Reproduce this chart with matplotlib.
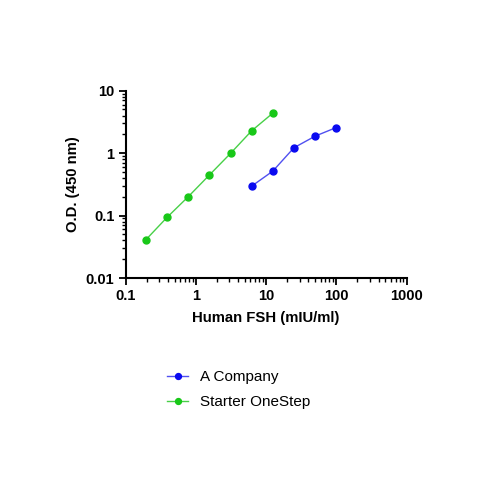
import matplotlib
matplotlib.use("agg")
import matplotlib.pyplot as plt
from matplotlib.ticker import LogLocator, FixedLocator, NullFormatter

plt.rcParams['font.family'] = ['Liberation Sans', 'DejaVu Sans']

# data
a_conc = [6.25, 12.5, 25, 50, 100]
a_od = [0.296, 0.515, 1.22, 1.87, 2.57]
s_conc = [0.195, 0.39, 0.78, 1.56, 3.125, 6.25, 12.5]
s_od = [0.041, 0.0935, 0.2, 0.445, 0.99, 2.28, 4.37]
x_ticks = [0.1, 1, 10, 100, 1000]
x_labels = ['0.1', '1', '10', '100', '1000']
y_ticks = [0.01, 0.1, 1, 10]
y_labels = ['0.01', '0.1', '1', '10']

fig = plt.figure(figsize=(5, 5), dpi=100)
ax = fig.add_axes([0.251, 0.444, 0.562, 0.3746])

la, = ax.plot(a_conc, a_od, color='#5050f0', lw=1.0, marker='o', ms=5.0,
              mfc='#0a0af0', mec='#0a0af0', label='A Company')
ls, = ax.plot(s_conc, s_od, color='#48d048', lw=1.0, marker='o', ms=5.0,
              mfc='#18c818', mec='#18c818', label='Starter OneStep')

ax.set_xscale('log')
ax.set_yscale('log')
ax.set_xlim(0.1, 1000)
ax.set_ylim(0.01, 10)
ax.xaxis.set_major_locator(FixedLocator(x_ticks))
ax.yaxis.set_major_locator(FixedLocator(y_ticks))
ax.set_xticklabels(x_labels, fontsize=10.5, fontweight='bold')
ax.set_yticklabels(y_labels, fontsize=10.5, fontweight='bold')
ax.xaxis.set_minor_locator(LogLocator(base=10, subs=range(2, 10)))
ax.yaxis.set_minor_locator(LogLocator(base=10, subs=range(2, 10)))
ax.xaxis.set_minor_formatter(NullFormatter())
ax.yaxis.set_minor_formatter(NullFormatter())
ax.tick_params(which='major', length=5, width=1.3, color='black', pad=3)
ax.tick_params(which='minor', length=3, width=1.0, color='black')

for side in ['top', 'right']:
    ax.spines[side].set_visible(False)
for side in ['left', 'bottom']:
    ax.spines[side].set_linewidth(1.5)

ax.set_xlabel('Human FSH (mIU/ml)', fontsize=10.7, fontweight='bold', labelpad=6)
ax.set_ylabel('O.D. (450 nm)', fontsize=10.7, fontweight='bold', labelpad=4)

fig.legend(handles=[la, ls], loc='upper left', bbox_to_anchor=(0.307, 0.287),
           bbox_transform=fig.transFigure, frameon=False, fontsize=11,
           handlelength=1.35, handletextpad=0.8, labelspacing=0.7,
           markerscale=0.85)

fig.savefig('out.png', dpi=100)
